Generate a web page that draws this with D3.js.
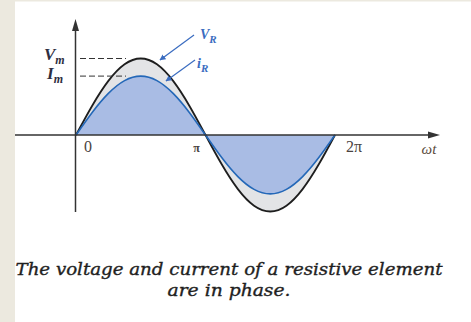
<!DOCTYPE html>
<html>
<head>
<meta charset="utf-8">
<script src="https://cdnjs.cloudflare.com/ajax/libs/d3/7.8.5/d3.min.js"></script>
<style>
  html, body { margin: 0; padding: 0; background: #ffffff; }
  svg { display: block; }
</style>
</head>
<body>
<svg id="chart" width="471" height="322"></svg>
<script>
// Phase angle in units of π (0 … 2π, step π/8)
const phase = [0, 0.125, 0.25, 0.375, 0.5, 0.625, 0.75, 0.875, 1,
               1.125, 1.25, 1.375, 1.5, 1.625, 1.75, 1.875, 2];
// Resistor voltage v_R (normalised to Vm = 1)
const voltage = [0, 0.383, 0.707, 0.924, 1, 0.924, 0.707, 0.383, 0,
                 -0.383, -0.707, -0.924, -1, -0.924, -0.707, -0.383, 0];
// Resistor current i_R (Im = 0.77 of Vm)
const current = [0, 0.295, 0.544, 0.711, 0.77, 0.711, 0.544, 0.295, 0,
                 -0.295, -0.544, -0.711, -0.77, -0.711, -0.544, -0.295, 0];
const peakV = 1;
const peakI = 0.77;
const xTickValues = [0, 1, 2];
const xTickLabels = ["0", "π", "2π"];
const captionLines = ["The voltage and current of a resistive element", "are in phase."];

const svg = d3.select("#chart");
const W = 471, H = 322;

// page backdrop: beige margin strips
svg.append("rect").attr("x", 0).attr("y", 0).attr("width", W).attr("height", H).attr("fill", "#ffffff");
svg.append("rect").attr("x", 0).attr("y", 0).attr("width", 15).attr("height", H).attr("fill", "#ece9df");
svg.append("rect").attr("x", 0).attr("y", 0).attr("width", W).attr("height", 1.5).attr("fill", "#ece9df");

const x = d3.scaleLinear().domain([0, 2]).range([76, 335]);
const y = d3.scaleLinear().domain([-1, 1]).range([211.5, 58.5]);

const vPts = phase.map((p, i) => [p, voltage[i]]);
const iPts = phase.map((p, i) => [p, current[i]]);

const area = d3.area().x(d => x(d[0])).y0(y(0)).y1(d => y(d[1])).curve(d3.curveNatural);
const line = d3.line().x(d => x(d[0])).y(d => y(d[1])).curve(d3.curveNatural);

// filled regions
svg.append("path").attr("d", area(vPts)).attr("fill", "#e3e4e6");
svg.append("path").attr("d", area(iPts)).attr("fill", "#a9bce4");

// curves
svg.append("path").attr("d", line(vPts)).attr("fill", "none")
  .attr("stroke", "#1e1e1e").attr("stroke-width", 1.8);
svg.append("path").attr("d", line(iPts)).attr("fill", "none")
  .attr("stroke", "#2468b8").attr("stroke-width", 1.6);

// axes
const axisColor = "#333333";
svg.append("line").attr("x1", 15).attr("x2", 430).attr("y1", y(0)).attr("y2", y(0))
  .attr("stroke", axisColor).attr("stroke-width", 1.5);
svg.append("path").attr("d", `M440,${y(0)} L428,${y(0) - 3.5} L428,${y(0) + 3.5} Z`).attr("fill", axisColor);

const yAxisX = x(0) - 0.5;
svg.append("line").attr("x1", yAxisX).attr("x2", yAxisX).attr("y1", 212).attr("y2", 28)
  .attr("stroke", axisColor).attr("stroke-width", 1.5);
svg.append("path").attr("d", `M${yAxisX},19 L${yAxisX - 3.5},31 L${yAxisX + 3.5},31 Z`).attr("fill", axisColor);

// dashed peak guides
[peakV, peakI].forEach(v => {
  svg.append("line").attr("x1", 80).attr("x2", 126).attr("y1", y(v)).attr("y2", y(v))
    .attr("stroke", "#333").attr("stroke-width", 1).attr("stroke-dasharray", "6,3");
});

// peak labels
function subLabel(xp, yp, main, sub, color, mainSize, subSize, dy) {
  const t = svg.append("text").attr("x", xp).attr("y", yp)
    .attr("font-family", "'Liberation Serif', serif").attr("font-style", "italic")
    .attr("font-weight", "bold").attr("fill", color).attr("font-size", mainSize);
  t.append("tspan").text(main);
  t.append("tspan").attr("dy", dy).attr("font-size", subSize).text(sub);
  return t;
}
subLabel(44, 60, "V", "m", "#2e2e40", 17, 12, 4);
subLabel(47, 79, "I", "m", "#2e2e40", 17, 12, 4);
subLabel(200, 39, "V", "R", "#3a6cc0", 14, 11, 4);
subLabel(197, 68, "i", "R", "#3a6cc0", 14, 11, 4);

// pointer arrows
const defs = svg.append("defs");
defs.append("marker").attr("id", "head").attr("viewBox", "0 0 10 10")
  .attr("refX", 9).attr("refY", 5).attr("markerWidth", 6).attr("markerHeight", 6)
  .attr("orient", "auto").attr("markerUnits", "userSpaceOnUse")
  .append("path").attr("d", "M0,0 L10,5 L0,10 Z").attr("fill", "#3a6cc0");
svg.append("line").attr("x1", 194).attr("y1", 35).attr("x2", 160).attr("y2", 60)
  .attr("stroke", "#3a6cc0").attr("stroke-width", 1.2).attr("marker-end", "url(#head)");
svg.append("line").attr("x1", 195).attr("y1", 60).attr("x2", 166).attr("y2", 81)
  .attr("stroke", "#3a6cc0").attr("stroke-width", 1.2).attr("marker-end", "url(#head)");

// x tick labels
const tickOffsets = [{dx: 12, size: 16, w: "normal"}, {dx: -9, size: 12, w: "bold"}, {dx: 19, size: 16, w: "normal"}];
xTickValues.forEach((v, i) => {
  svg.append("text").attr("x", x(v) + tickOffsets[i].dx).attr("y", 152)
    .attr("text-anchor", "middle")
    .attr("font-family", "'Liberation Serif', serif")
    .attr("font-size", tickOffsets[i].size).attr("font-weight", tickOffsets[i].w)
    .attr("fill", "#4a4440").text(xTickLabels[i]);
});
svg.append("text").attr("x", 429).attr("y", 154).attr("text-anchor", "middle")
  .attr("font-family", "'Liberation Serif', serif").attr("font-style", "italic")
  .attr("font-size", 15).attr("fill", "#5a4a3c").text("ωt");

// caption
const capY = [275, 296];
const capWidths = [427, 123];
captionLines.forEach((s, i) => {
  svg.append("text").attr("x", 229).attr("y", capY[i]).attr("text-anchor", "middle")
    .attr("font-family", "'DejaVu Serif', serif").attr("font-style", "italic")
    .attr("font-size", 16).attr("fill", "#1f1f1f")
    .attr("stroke", "#1f1f1f").attr("stroke-width", 0.35)
    .attr("textLength", capWidths[i]).attr("lengthAdjust", "spacingAndGlyphs")
    .text(s);
});
</script>
</body>
</html>
